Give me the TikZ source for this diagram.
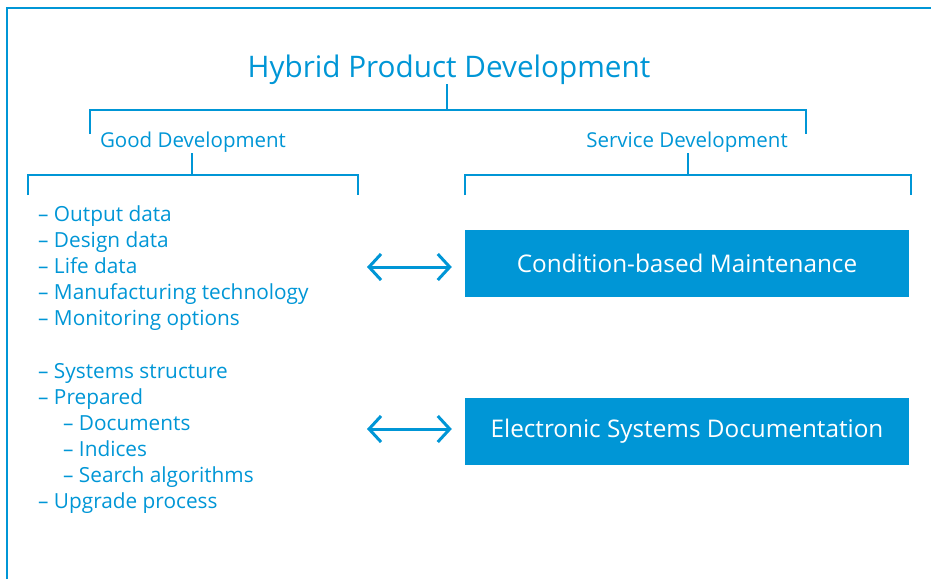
\documentclass[tikz,border=0pt]{standalone}
\usepackage{fontspec}
\setmainfont{Open Sans}
\usepackage{tikz}
\usetikzlibrary{arrows.meta,positioning}
\definecolor{hpdblue}{RGB}{0,150,214}

\begin{document}
\begin{tikzpicture}[x=1pt,y=-1pt,
  brk/.style={draw=hpdblue, line width=2pt},
  item/.style={anchor=base west, inner sep=0pt, text=hpdblue, font=\fontsize{20.8}{24}\selectfont},
  head/.style={anchor=base, inner sep=0pt, text=hpdblue, font=\fontsize{20.5}{24}\selectfont},
  servbox/.style={fill=hpdblue, text=white, minimum width=444pt, minimum height=67pt, inner sep=0pt, font=\fontsize{24.3}{28}\selectfont},
  link/.style={draw=hpdblue, line width=3pt, {Straight Barb[length=12pt,width=26pt]}-{Straight Barb[length=12pt,width=26pt]}}]
\useasboundingbox (0,0) rectangle (931,579);
\draw [hpdblue, line width=2.5pt] (7,579) -- (7,8) -- (931,8);
% headings
\node [head, font=\fontsize{29.7}{34}\selectfont] (hpd) at (449,77) {Hybrid Product Development};
\node [head] (good) at (193,147) {Good Development};
\node [head] (serv) at (687,147) {Service Development};
\coordinate [] (T) at (447,84);
\coordinate [] (G) at (192,153);
\coordinate [] (S) at (688,153);
\draw [brk] (T) -- (447,110);
\draw [brk] (90,134) -- (90,110) -- (806,110) -- (806,134);
\draw [brk] (G) -- (192,175);
\draw [brk] (28,195) -- (28,175) -- (358,175) -- (358,195);
\draw [brk] (S) -- (688,175);
\draw [brk] (465,195) -- (465,175) -- (911,175) -- (911,195);
% good development items
\node [item] (i1) at (38,221) {-- Output data};
\node [item] (i2) at (38,247) {-- Design data};
\node [item] (i3) at (38,273) {-- Life data};
\node [item] (i4) at (38,299) {-- Manufacturing technology};
\node [item] (i5) at (38,325) {-- Monitoring options};
\node [item] (j1) at (38,378) {-- Systems structure};
\node [item] (j2) at (38,404) {-- Prepared};
\node [item] (j3) at (63,430) {-- Documents};
\node [item] (j4) at (63,456) {-- Indices};
\node [item] (j5) at (63,482) {-- Search algorithms};
\node [item] (j6) at (38,508) {-- Upgrade process};
% service development boxes
\node [servbox] (cbm) at (687,263.5) {Condition-based Maintenance};
\node [servbox] (esd) at (687,431.5) {Electronic Systems Documentation};
\coordinate [] (A) at (367,267);
\coordinate [] (B) at (367,429);
\draw [link, shorten >=13pt] (A) -- (cbm.west |- A);
\draw [link, shorten >=13pt] (B) -- (esd.west |- B);
\end{tikzpicture}
\end{document}
